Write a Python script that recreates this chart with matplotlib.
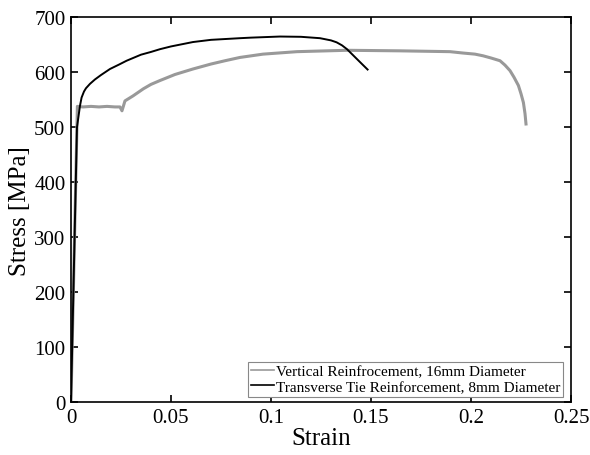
import matplotlib
matplotlib.use("Agg")
import matplotlib.pyplot as plt

plt.rcParams['font.family'] = ['Liberation Serif', 'DejaVu Serif']

# Vertical reinforcement, 16mm (grey curve)
strain_v = [0.0, 0.0032, 0.006, 0.010, 0.014, 0.018, 0.022, 0.0245, 0.0255, 0.027,
            0.031, 0.0362, 0.040, 0.0445, 0.052, 0.061, 0.070, 0.077, 0.0845, 0.096,
            0.113, 0.138, 0.1645, 0.1895, 0.196, 0.202, 0.206, 0.210, 0.2145, 0.217,
            0.2195, 0.2215, 0.2237, 0.225, 0.2262, 0.227, 0.2275]
stress_v = [0, 538, 537, 538, 537, 538, 537, 537, 530, 548,
            557, 570, 578, 585, 596, 606, 615, 621, 627, 633,
            637.5, 640, 639, 637.5, 635, 633, 630, 626, 621, 613,
            603, 591, 576, 561, 545, 525, 506]

# Transverse tie, 8mm (black curve)
strain_t = [0.0, 0.0030, 0.0045, 0.0053, 0.0065, 0.0075, 0.0095, 0.012, 0.015,
            0.0195, 0.024, 0.0278, 0.035, 0.040, 0.0445, 0.050, 0.061, 0.070,
            0.0845, 0.090, 0.1045, 0.115, 0.1245, 0.130, 0.1328, 0.1355, 0.138,
            0.1405, 0.143, 0.1455, 0.1483]
stress_t = [0, 500, 539, 554, 565, 571, 579, 587, 595,
            606, 614, 621, 632, 637, 642, 647, 655, 659,
            662, 663, 665, 664.5, 662, 658, 654.5, 649, 642,
            633, 624, 615, 605]

labels = ['Vertical Reinfrocement, 16mm Diameter',
          'Transverse Tie Reinforcement, 8mm Diameter']

fig = plt.figure(figsize=(5.9, 4.56), dpi=100)
ax = fig.add_axes([0.1203, 0.1156, 0.8475, 0.8443])

ax.plot(strain_v, stress_v, color='#999999', lw=2.2, label=labels[0])
ax.plot(strain_t, stress_t, color='black', lw=1.4, label=labels[1])

ax.set_xlim(0, 0.25)
ax.set_ylim(0, 700)
ax.set_xticks([0, 0.05, 0.1, 0.15, 0.2, 0.25])
ax.set_xticklabels(['0', '0.05', '0.1', '0.15', '0.2', '0.25'])
ax.set_yticks(range(0, 701, 100))
ax.tick_params(direction='in', top=True, right=True, length=5, width=1.2,
               labelsize=15, pad=4)
for s in ax.spines.values():
    s.set_linewidth(1.2)

ax.set_xlabel('Strain', fontsize=18, labelpad=0)
ax.set_ylabel('Stress [MPa]', fontsize=18, labelpad=2)

leg = ax.legend(loc='lower right', bbox_to_anchor=(0.984, 0.014), borderaxespad=0,
                fontsize=11, handlelength=1.5, handletextpad=0.1, fancybox=False,
                framealpha=1, edgecolor='#888888', borderpad=0.2, labelspacing=0.1)
leg.get_frame().set_linewidth(0.8)
for h in leg.get_lines():
    h.set_linewidth(1.2)

fig.savefig('out.png', dpi=100)
